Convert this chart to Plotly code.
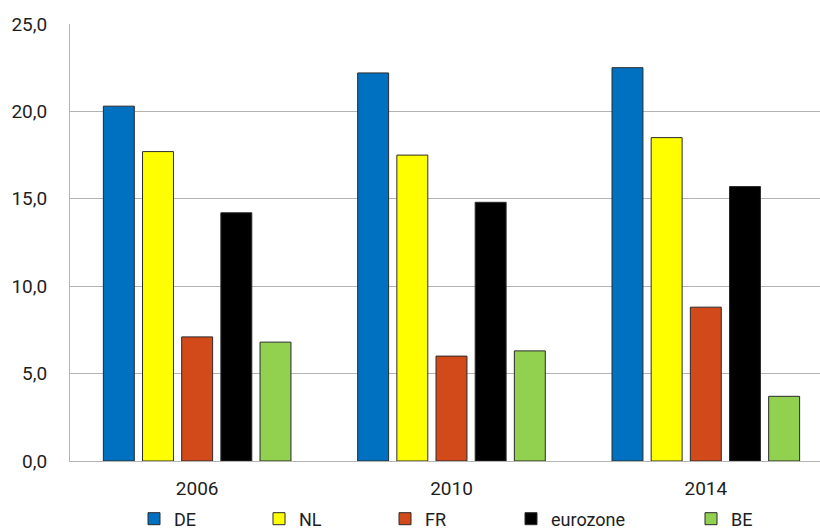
import plotly.graph_objects as go

years = ["2006", "2010", "2014"]
de = [20.3, 22.2, 22.5]
nl = [17.7, 17.5, 18.5]
fr = [7.1, 6.0, 8.8]
eurozone = [14.2, 14.8, 15.7]
be = [6.8, 6.3, 3.7]

series = [
    ("DE", de, "#0070C0"),
    ("NL", nl, "#FFFF00"),
    ("FR", fr, "#D24A19"),
    ("eurozone", eurozone, "#000000"),
    ("BE", be, "#92D050"),
]

W, H = 820, 530
# left edge (px) of each legend entry along the bottom row
legend_px = [134, 259, 385, 511, 691]

FONT = "Roboto, Arial, sans-serif"
TXT = "#1e1e1e"

fig = go.Figure()
layout_legends = {}
for i, (name, vals, col) in enumerate(series):
    key = "legend" if i == 0 else f"legend{i + 1}"
    fig.add_trace(go.Bar(
        name=name, x=years, y=vals,
        marker=dict(color=col, line=dict(color="#2a2a2a", width=1)),
        legend=key, showlegend=True,
    ))
    layout_legends[key] = dict(
        xref="container", yref="container",
        x=legend_px[i] / W, xanchor="left",
        y=(H - 519) / H, yanchor="middle",
        orientation="h", bgcolor="rgba(0,0,0,0)",
        font=dict(family=FONT, size=18, color=TXT),
        itemwidth=30,
    )

fig.update_layout(
    width=W, height=H,
    margin=dict(l=70, r=0, t=24, b=69),
    paper_bgcolor="white", plot_bgcolor="white",
    barmode="group", bargap=0.23, bargroupgap=0.21,
    separators=", ",
    showlegend=True,
    font=dict(family=FONT, size=19, color=TXT),
    **layout_legends,
)

fig.update_xaxes(
    type="category", range=[-0.5, 2.449],
    showline=True, linecolor="#b4b4b4", linewidth=1,
    showgrid=False, ticks="", ticklabelstandoff=10,
    tickfont=dict(family=FONT, size=19, color=TXT),
)
fig.update_yaxes(
    range=[0, 25], tickvals=[0, 5, 10, 15, 20, 25], tickformat=".1f",
    showline=True, linecolor="#b4b4b4", linewidth=1,
    showgrid=True, gridcolor="#b4b4b4", gridwidth=1,
    zeroline=False, ticks="", ticklabelstandoff=18,
    tickfont=dict(family=FONT, size=19, color=TXT),
)

fig.write_html("out.html")
